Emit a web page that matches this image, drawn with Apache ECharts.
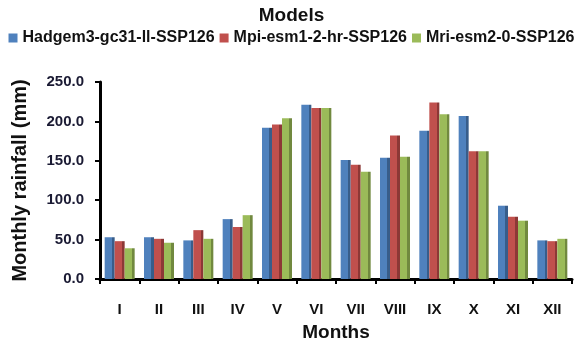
<!DOCTYPE html>
<html>
<head>
<meta charset="utf-8">
<script src="https://cdn.jsdelivr.net/npm/echarts@6/dist/echarts.min.js"></script>
<style>
  html, body { margin: 0; padding: 0; background: #fff; }
  #chart { width: 583px; height: 347px; }
</style>
</head>
<body>
<div id="chart"></div>
<script>
// Monthly rainfall under SSP1-2.6 for three climate models
const months = ['I', 'II', 'III', 'IV', 'V', 'VI', 'VII', 'VIII', 'IX', 'X', 'XI', 'XII'];
const seriesNames = ['Hadgem3-gc31-ll-SSP126', 'Mpi-esm1-2-hr-SSP126', 'Mri-esm2-0-SSP126'];
const hadgem = [53, 53, 49, 76, 192, 221, 151, 154, 188, 207, 93, 49];
const mpi    = [48, 51, 62, 66, 196, 217, 145, 182, 224, 162, 79, 48];
const mri    = [39, 46, 51, 81, 204, 217, 136, 155, 209, 162, 74, 51];
const yTicks = { min: 0, max: 250, interval: 50 };

const faceColors = ['#4F81BD', '#C0504D', '#9BBB59'];
const sideColors = ['#385D8A', '#8C3836', '#71893F'];
const font = 'Liberation Sans, Arial, sans-serif';

// front face plus darker right edge to suggest the bar's depth
function barFill(i) {
  return new echarts.graphic.LinearGradient(0, 0, 1, 0, [
    { offset: 0, color: faceColors[i] },
    { offset: 0.72, color: faceColors[i] },
    { offset: 0.72, color: sideColors[i] },
    { offset: 1, color: sideColors[i] }
  ]);
}

const values = [hadgem, mpi, mri];
const chart = echarts.init(document.getElementById('chart'));
chart.setOption({
  animation: false,
  title: {
    text: 'Models',
    left: 'center',
    top: 1,
    textStyle: { fontFamily: font, fontWeight: 'bold', fontSize: 19, color: '#111' }
  },
  legend: {
    data: seriesNames.map((n, i) => ({ name: n, itemStyle: { color: faceColors[i] } })),
    top: 25,
    left: 'center',
    itemWidth: 9,
    itemHeight: 9,
    itemGap: 5,
    icon: 'rect',
    textStyle: { fontFamily: font, fontWeight: 'bold', fontSize: 16, color: '#111' }
  },
  grid: { left: 100, right: 11, top: 82, bottom: 64 },
  xAxis: {
    type: 'category',
    data: months,
    name: 'Months',
    nameLocation: 'middle',
    nameGap: 44,
    nameTextStyle: { fontFamily: font, fontWeight: 'bold', fontSize: 19, color: '#111' },
    axisLine: { lineStyle: { color: '#000', width: 3 } },
    axisTick: { show: true, length: 5, lineStyle: { color: '#000', width: 2 } },
    axisLabel: { margin: 23, fontFamily: font, fontWeight: 'bold', fontSize: 15, color: '#111' }
  },
  yAxis: {
    type: 'value',
    min: yTicks.min,
    max: yTicks.max,
    interval: yTicks.interval,
    name: 'Monthly rainfall (mm)',
    nameLocation: 'middle',
    nameGap: 70,
    nameTextStyle: { fontFamily: font, fontWeight: 'bold', fontSize: 20, color: '#111' },
    axisLine: { show: true, lineStyle: { color: '#000', width: 3 } },
    axisTick: { show: true, length: 5, lineStyle: { color: '#000', width: 2 } },
    splitLine: { show: false },
    axisLabel: {
      margin: 16,
      fontFamily: font, fontWeight: 'bold', fontSize: 15, color: '#1a1a33',
      formatter: v => v.toFixed(1)
    }
  },
  series: seriesNames.map((n, i) => ({
    name: n,
    type: 'bar',
    data: values[i],
    barWidth: 10,
    barGap: '0%',
    itemStyle: { color: barFill(i) }
  }))
});
</script>
</body>
</html>
